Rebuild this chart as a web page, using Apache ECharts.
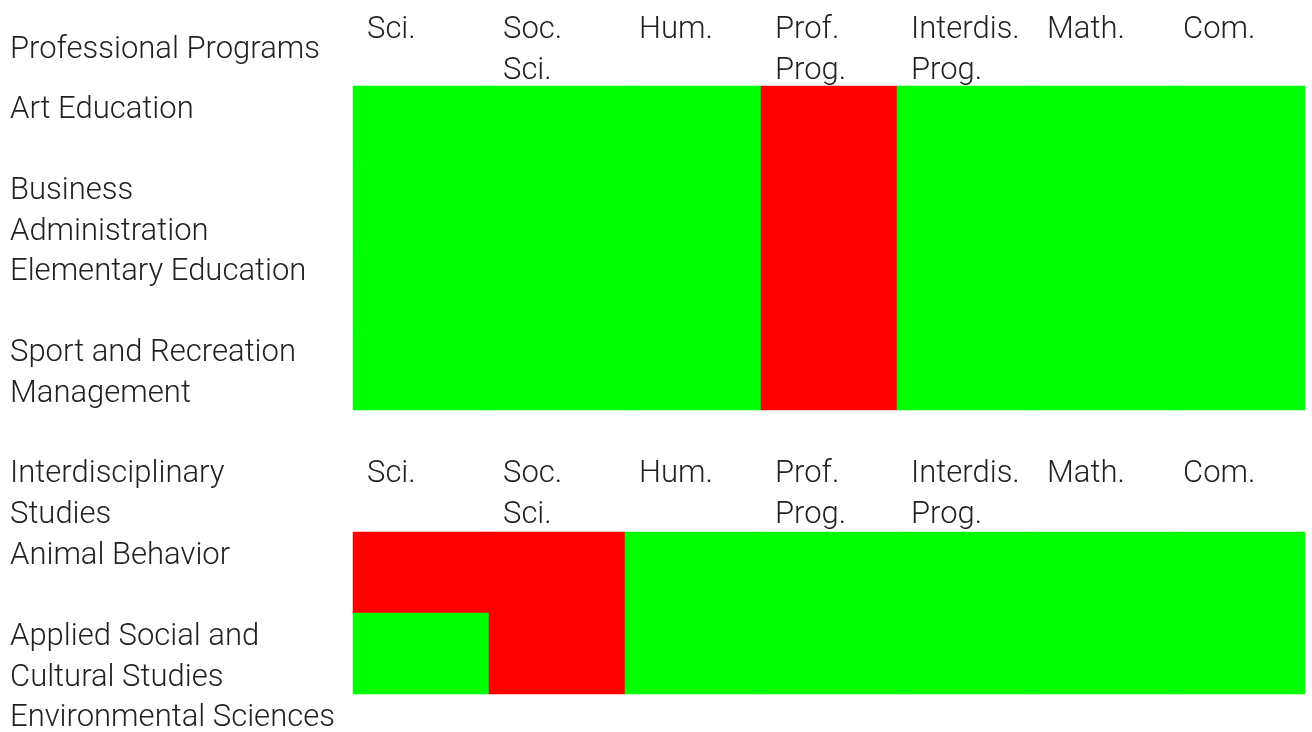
<!DOCTYPE html>
<html>
<head>
<meta charset="utf-8">
<script src="https://cdn.jsdelivr.net/npm/echarts@6/dist/echarts.min.js"></script>
<style>
html,body{margin:0;padding:0;background:#fff;}
#main{width:1312px;height:732px;}
</style>
</head>
<body>
<div id="main"></div>
<script>
// column headers (shared by both tables)
var columns = ['Sci.', 'Soc.\nSci.', 'Hum.', 'Prof.\nProg.', 'Interdis.\nProg.', 'Math.', 'Com.'];

// Professional Programs table: 1 = ok (green), 0 = missing (red)
var profRows = ['Art Education', 'Business\nAdministration', 'Elementary Education', 'Sport and Recreation\nManagement'];
var profValues = [
	[1, 1, 1, 0, 1, 1, 1],
	[1, 1, 1, 0, 1, 1, 1],
	[1, 1, 1, 0, 1, 1, 1],
	[1, 1, 1, 0, 1, 1, 1]
];

// Interdisciplinary Studies table
var interRows = ['Animal Behavior', 'Applied Social and\nCultural Studies', 'Environmental Sciences'];
var interValues = [
	[0, 0, 1, 1, 1, 1, 1],
	[1, 0, 1, 1, 1, 1, 1]
];

var FONT = 'Roboto';
var FW = 300;
var FS = 31;
var LH = 41;
var TXT = '#222';

function toCells(values){
	var out = [];
	for(var r = 0; r < values.length; r++){
		for(var c = 0; c < values[r].length; c++){
			out.push([c, r, values[r][c]]);
		}
	}
	return out;
}

function xAxisFor(gridIndex, margin){
	return {
		type: 'category',
		gridIndex: gridIndex,
		position: 'top',
		data: columns,
		axisLine: {show: false},
		axisTick: {show: false},
		splitLine: {show: false},
		axisLabel: {
			interval: 0,
			margin: margin,
			align: 'center',
			verticalAlign: 'top',
			formatter: function(v){
				return v.split('\n').map(function(s){ return '{c|' + s + '}'; }).join('\n');
			},
			rich: {c: {width: 108, align: 'left', fontFamily: FONT, fontWeight: FW, fontSize: FS, lineHeight: LH, color: TXT}}
		}
	};
}

function yAxisFor(gridIndex, rows){
	return {
		type: 'category',
		gridIndex: gridIndex,
		inverse: true,
		data: rows,
		axisLine: {show: false},
		axisTick: {show: false},
		splitLine: {show: false},
		axisLabel: {
			interval: 0,
			margin: 343,
			align: 'left',
			verticalAlign: 'middle',
			// always two text lines (blank second line for one-line names) plus a thin spacer,
			// so the first line sits near the top of its row
			formatter: function(v){
				var lines = v.split('\n');
				if(lines.length < 2) lines.push(' ');
				return '{s| }\n' + lines.map(function(s){ return '{t|' + s + '}'; }).join('\n');
			},
			rich: {
				s: {fontSize: 1, lineHeight: 8},
				t: {fontFamily: FONT, fontWeight: FW, fontSize: FS, lineHeight: LH, color: TXT}
			}
		}
	};
}

var titleStyle = {fontFamily: FONT, fontWeight: FW, fontSize: FS, lineHeight: LH, color: TXT};

var myChart = echarts.init(document.getElementById('main'));
var option = {
	animation: false,
	backgroundColor: '#fff',
	title: [
		{text: 'Professional Programs', left: 10, top: 30, padding: 0, textStyle: titleStyle},
		{text: 'Interdisciplinary\nStudies', left: 10, top: 454, padding: 0, textStyle: titleStyle}
	],
	grid: [
		{left: 353, width: 952, top: 86, height: 324, outerBoundsMode: 'none'},
		{left: 353, width: 952, top: 532, height: 243, outerBoundsMode: 'none'}
	],
	xAxis: [xAxisFor(0, 76), xAxisFor(1, 78)],
	yAxis: [yAxisFor(0, profRows), yAxisFor(1, interRows)],
	visualMap: {
		type: 'piecewise',
		show: false,
		dimension: 2,
		seriesIndex: [0, 1],
		pieces: [
			{value: 0, color: '#ff0000'},
			{value: 1, color: '#00ff00'}
		]
	},
	series: [
		{name: 'Professional Programs', type: 'heatmap', xAxisIndex: 0, yAxisIndex: 0, data: toCells(profValues), itemStyle: {borderWidth: 0}},
		{name: 'Interdisciplinary Studies', type: 'heatmap', xAxisIndex: 1, yAxisIndex: 1, data: toCells(interValues), itemStyle: {borderWidth: 0}}
	]
};
myChart.setOption(option);
</script>
</body>
</html>
